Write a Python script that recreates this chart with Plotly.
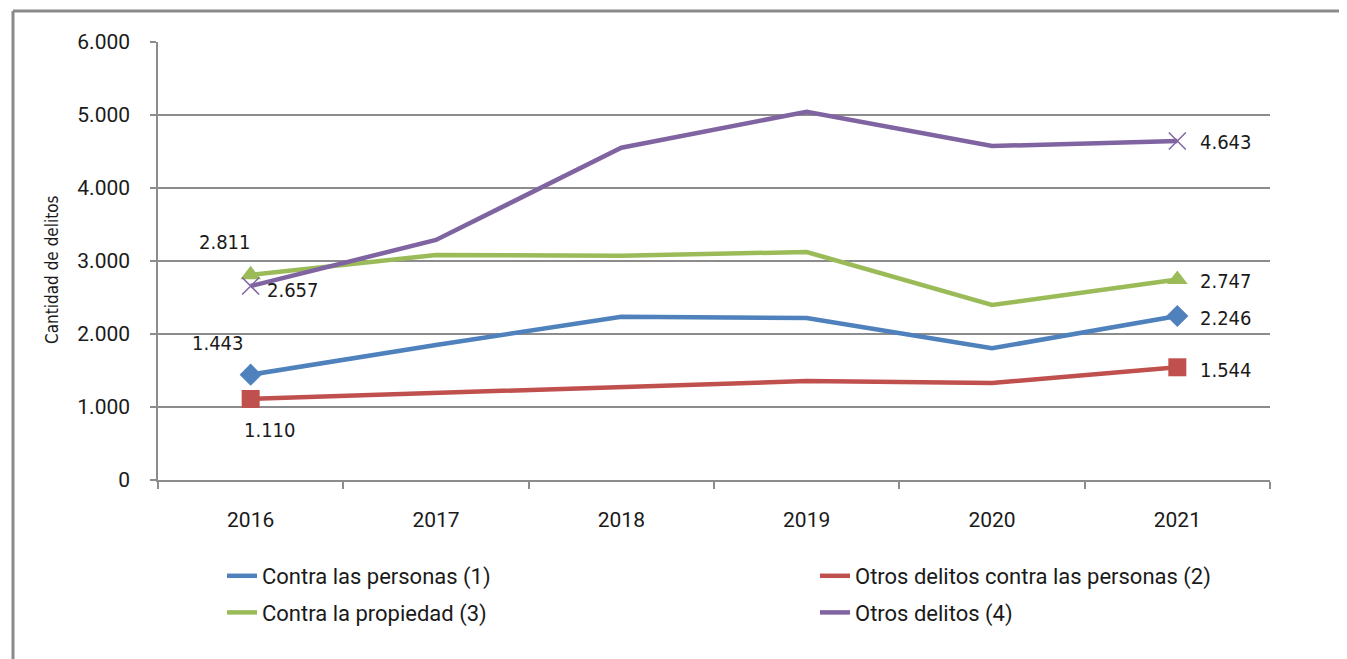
import plotly.graph_objects as go

years = ["2016", "2017", "2018", "2019", "2020", "2021"]
contra_personas = [1443, 1849, 2237, 2219, 1804, 2246]
otros_contra_personas = [1110, 1192, 1274, 1356, 1329, 1544]
contra_propiedad = [2811, 3082, 3073, 3123, 2397, 2747]
otros_delitos = [2657, 3288, 4552, 5045, 4575, 4643]

names = ["Contra las personas (1)", "Otros delitos contra las personas (2)",
         "Contra la propiedad (3)", "Otros delitos (4)"]
series = [contra_personas, otros_contra_personas, contra_propiedad, otros_delitos]
colors = ["#4F81BD", "#C0504D", "#9BBB59", "#8064A2"]
symbols = ["diamond", "square", "triangle-up", "x-thin"]
msizes = [17, 18, 18, 17]
legends = ["legend", "legend2", "legend", "legend2"]
# label offsets (px) for first and last point
first_off = [(-33, 32), (19, -31), (-26, 33), (42, -4)]
last_off = [(49, -2), (49, -3), (49, -2), (49, -1)]

def fmt(v):
    return f"{v:,}".replace(",", ".")

# page offset of the figure (body margin)
OX, OY = 8, 8
L, T, W, H = 158 - OX, 42 - OY, 1112, 438

def px(xp):
    return (xp - OX - L) / W

def py(yp):
    return (T + H - (yp - OY)) / H

fig = go.Figure()
for i in range(4):
    fig.add_trace(go.Scatter(
        x=years, y=series[i], mode="lines", name=names[i],
        line=dict(color=colors[i], width=4.5), legend=legends[i],
        legendgroup=f"g{i}"))
for i in range(4):
    xs = [years[0], years[-1]]
    ys = [series[i][0], series[i][-1]]
    mk = dict(symbol=symbols[i], size=msizes[i], color=colors[i])
    if symbols[i] == "x-thin":
        mk["line"] = dict(color=colors[i], width=1.5)
    fig.add_trace(go.Scatter(x=xs, y=ys, mode="markers", marker=mk,
                             showlegend=False, hoverinfo="skip"))

cond = "DejaVu Sans Condensed, Roboto Condensed, Liberation Sans Narrow, Roboto"
annotations = []
label_font = dict(family=cond, size=20, color="#1a1a1a")
for i in range(4):
    for idx, off in ((0, first_off[i]), (len(years) - 1, last_off[i])):
        annotations.append(dict(
            x=idx, y=series[i][idx], xref="x", yref="y",
            text=fmt(series[i][idx]), showarrow=False,
            xshift=off[0], yshift=off[1], font=label_font))

annotations.append(dict(
    x=px(40), y=py(270), xref="paper", yref="paper",
    text="Cantidad de delitos", textangle=-90, showarrow=False,
    font=dict(family=cond, size=17, color="#1a1a1a")))

shapes = [
    dict(type="line", xref="paper", yref="paper", x0=px(13), x1=1.2,
         y0=py(11), y1=py(11), line=dict(color="#8a8a8a", width=3)),
    dict(type="line", xref="paper", yref="paper", x0=px(13), x1=px(13),
         y0=py(11), y1=-0.6, line=dict(color="#8a8a8a", width=3)),
]

tick_font = dict(family="Roboto", size=21, color="#1a1a1a")
leg_font = dict(family="Roboto", size=22, color="#1a1a1a")
fig.update_layout(
    width=1347, height=659,
    margin=dict(l=L, r=1347 - L - W, t=T, b=659 - T - H),
    paper_bgcolor="white", plot_bgcolor="white",
    separators=",.",
    showlegend=True,
    xaxis=dict(type="category", tickson="boundaries", ticks="outside",
               ticklen=7, tickcolor="#8c8c8c", tickwidth=1.5,
               showline=True, linecolor="#8c8c8c", linewidth=1.5,
               showgrid=False, tickfont=tick_font, ticklabelstandoff=20,
               range=[-0.5, 5.5]),
    yaxis=dict(range=[0, 6000], tickvals=[0, 1000, 2000, 3000, 4000, 5000, 6000],
               tickformat=",.0f", ticks="outside", ticklen=6,
               tickcolor="#8c8c8c", tickwidth=1.5,
               showline=True, linecolor="#8c8c8c", linewidth=1.5,
               showgrid=True, gridcolor="#8c8c8c", gridwidth=1.5,
               zeroline=False, tickfont=tick_font, ticklabelstandoff=16),
    legend=dict(x=px(222), y=py(555), xanchor="left",
                yanchor="top", orientation="v", traceorder="grouped",
                tracegroupgap=5, font=leg_font, bgcolor="rgba(0,0,0,0)"),
    legend2=dict(x=px(815), y=py(555), xanchor="left",
                 yanchor="top", orientation="v", traceorder="grouped",
                 tracegroupgap=5, font=leg_font, bgcolor="rgba(0,0,0,0)"),
    annotations=annotations,
    shapes=shapes,
)

fig.write_html("out.html")
